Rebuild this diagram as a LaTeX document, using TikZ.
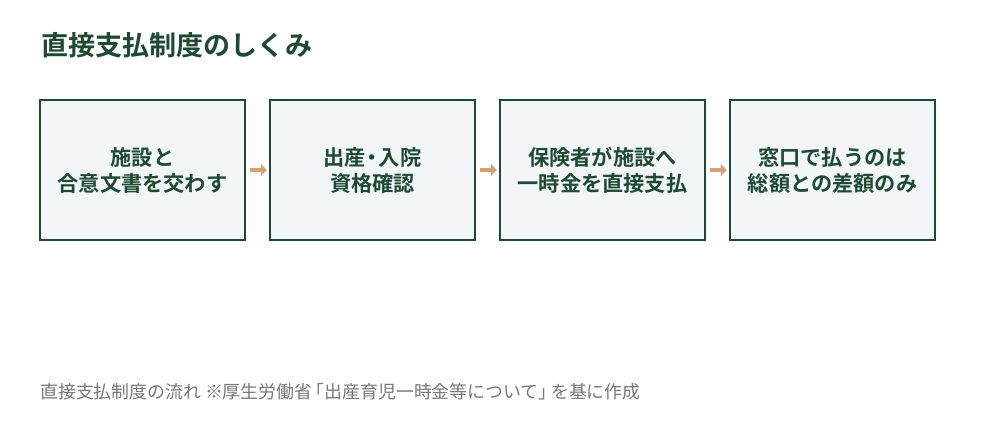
\documentclass[tikz,border=0pt]{standalone}
\usepackage{fontspec}
\newfontfamily\cjk{Noto Sans CJK JP}
\newfontfamily\cjkb{Noto Sans CJK JP Bold}
\usetikzlibrary{arrows.meta}
\definecolor{dgreen}{HTML}{1E4A33}
\definecolor{boxfill}{HTML}{F3F6F9}
\definecolor{arr}{HTML}{D4A373}
\definecolor{cap}{HTML}{777777}
\begin{document}
\begin{tikzpicture}[x=0.75pt,y=-0.75pt,
  stepbox/.style={draw=dgreen,line width=1.9pt,fill=boxfill,minimum width=153.75pt,minimum height=105pt,inner sep=0pt,
    align=center,font=\cjkb\fontsize{15.9pt}{19.5pt}\selectfont,text=dgreen},
  conn/.style={draw=arr,line width=2.6pt,-{Triangle[length=4.5pt,width=9pt]},shorten >=1.4pt}]
\useasboundingbox (0,0) rectangle (1000,448);
\node[anchor=west,font=\cjkb\fontsize{20.3pt}{24pt}\selectfont,text=dgreen,inner sep=0pt] (title) at (41,45) {直接支払制度のしくみ};
\node[stepbox] (b1) at (142.5,170) {施設と\\合意文書を交わす};
\node[stepbox] (b2) at (372.5,170) {出産\kern-0.2em・\kern-0.2em入院\\資格確認};
\node[stepbox] (b3) at (602.5,170) {保険者が施設へ\\一時金を直接支払};
\node[stepbox] (b4) at (832.5,170) {窓口で払うのは\\総額との差額のみ};
\draw[conn] ([xshift=3pt]b1.east) -- (b2.west);
\draw[conn] ([xshift=3pt]b2.east) -- (b3.west);
\draw[conn] ([xshift=3pt]b3.east) -- (b4.west);
\node[anchor=west,font=\cjk\fontsize{13.4pt}{15pt}\selectfont,text=cap,inner sep=0pt] (caption) at (40,392) {直接支払制度の流れ ※厚生労働省\kern-0.3em「出産育児一時金等について」\kern-0.3em を基に作成};
\end{tikzpicture}
\end{document}
